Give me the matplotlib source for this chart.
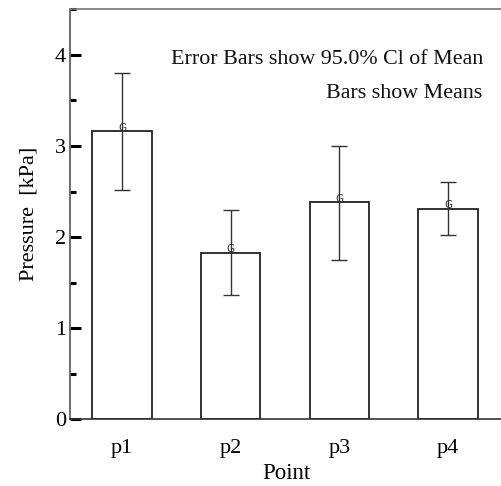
import matplotlib
matplotlib.use("Agg")
import matplotlib.pyplot as plt
from matplotlib.ticker import MultipleLocator

categories = ["p1", "p2", "p3", "p4"]
means = [3.16, 1.83, 2.38, 2.31]
ci_low = [2.52, 1.36, 1.75, 2.02]
ci_high = [3.80, 2.30, 3.00, 2.60]

plt.rcParams['font.family'] = ['Liberation Serif', 'DejaVu Serif']

fig = plt.figure(figsize=(5.02, 4.86), dpi=100)
ax = fig.add_axes([70/502, 1 - 419.3/486, (502-70)/502, (419.3-9.3)/486])

x = list(range(len(categories)))
ax.bar(x, means, width=0.545, facecolor='white', edgecolor='#222222', linewidth=1.3, zorder=2)
yerr = [[m - l for m, l in zip(means, ci_low)], [h - m for m, h in zip(means, ci_high)]]
ax.errorbar(x, means, yerr=yerr, fmt='none', ecolor='#333333', elinewidth=1.0,
            capsize=5.5, capthick=1.0, zorder=3)
for xi, m in zip(x, means):
    ax.annotate("G", (xi, m), xytext=(0, 0.3), textcoords='offset points',
                ha='center', va='baseline', fontsize=7.5,
                family='DejaVu Sans', color='#333333', zorder=4)

ax.set_xlim(-0.478, 3.496)
ax.set_ylim(0, 4.5)
ax.yaxis.set_major_locator(MultipleLocator(1))
ax.yaxis.set_minor_locator(MultipleLocator(0.5))
ax.set_xticks(x)
ax.set_xticklabels(categories, fontsize=16)
ax.tick_params(axis='y', which='major', direction='in', length=8, width=2.2, labelsize=16, pad=3, color='black')
ax.tick_params(axis='y', which='minor', direction='in', length=4, width=2.2, color='black')
ax.tick_params(axis='x', which='both', length=0, pad=14)

ax.spines['right'].set_visible(False)
ax.spines['left'].set_color('#555555')
ax.spines['top'].set_color('#777777')
ax.spines['bottom'].set_color('#333333')
for s in ax.spines.values():
    s.set_linewidth(1.2)

ax.set_ylabel("Pressure  [kPa]", fontsize=16, labelpad=12)
ax.set_xlabel("Point", fontsize=16.5, labelpad=4)

ax.text(483, 486 - 59, "Error Bars show 95.0% Cl of Mean", transform=None,
        ha='right', va='center', fontsize=15.8, color='#111111')
ax.text(482, 486 - 93, "Bars show Means", transform=None,
        ha='right', va='center', fontsize=15.8, color='#111111')

fig.savefig("out.png", dpi=100)
